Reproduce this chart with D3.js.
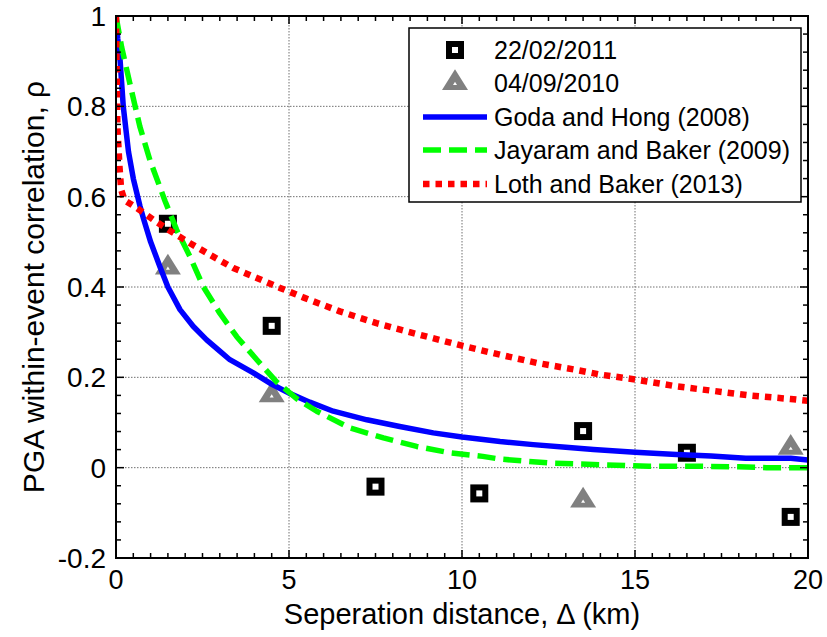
<!DOCTYPE html>
<html>
<head>
<meta charset="utf-8">
<script src="https://cdn.jsdelivr.net/npm/d3@7/dist/d3.min.js"></script>
<style>
html,body{margin:0;padding:0;background:#fff;}
svg{display:block;}
text{font-family:"Liberation Sans",Arial,Helvetica,sans-serif;fill:#000;}
</style>
</head>
<body>
<svg id="chart" width="827" height="637"></svg>
<script>
// ---------- data ----------
const xTicks = [0, 5, 10, 15, 20];
const yTicks = [-0.2, 0, 0.2, 0.4, 0.6, 0.8, 1];
const yTickLabels = ["-0.2", "0", "0.2", "0.4", "0.6", "0.8", "1"];

const eq2011X = [1.5, 4.5, 7.5, 10.5, 13.5, 16.5, 19.5];
const eq2011Y = [0.54, 0.314, -0.042, -0.057, 0.081, 0.033, -0.109];

const eq2010X = [1.5, 4.5, 13.5, 19.5];
const eq2010Y = [0.443, 0.16, -0.073, 0.044];

const godaX = [0, 0.05, 0.12, 0.21, 0.36, 0.5, 0.69, 0.8, 1.0, 1.27, 1.5, 1.85, 2.23, 2.62, 3.0, 3.29, 3.97, 4.45, 5.0, 5.6, 6.28, 7.25, 8.2, 9.17, 10.0, 11.1, 12.06, 13.0, 13.8, 15.0, 16.2, 17.2, 18.2, 19.5, 20];
const godaY = [1.0, 0.95, 0.90, 0.80, 0.70, 0.64, 0.58, 0.55, 0.50, 0.445, 0.40, 0.35, 0.313, 0.283, 0.258, 0.239, 0.21, 0.187, 0.165, 0.145, 0.125, 0.106, 0.091, 0.077, 0.068, 0.058, 0.051, 0.045, 0.040, 0.034, 0.029, 0.026, 0.021, 0.021, 0.017];

const jayX = [0, 0.16, 0.4, 0.69, 0.98, 1.42, 1.75, 2.14, 2.52, 3.0, 3.49, 4.07, 4.64, 5.22, 5.8, 6.76, 7.73, 8.69, 9.65, 10.6, 11.1, 12.5, 14.0, 15.4, 16.9, 18.0, 18.8, 20];
const jayY = [1.0, 0.932, 0.851, 0.755, 0.681, 0.59, 0.527, 0.467, 0.401, 0.342, 0.29, 0.239, 0.19, 0.153, 0.125, 0.088, 0.066, 0.047, 0.033, 0.025, 0.019, 0.0104, 0.0066, 0.003, 0.003, 0.002, 0.0, 0.0];

const lothX = [0, 0.01, 0.02, 0.04, 0.1, 0.15, 0.25, 0.6, 1.08, 1.51, 2.14, 2.72, 3.39, 4.07, 4.74, 5.41, 6.47, 7.53, 8.59, 10.0, 11.1, 12.16, 13.27, 14.0, 15.03, 16.2, 17.26, 18.3, 19.5, 20];
const lothY = [1.0, 0.93, 0.866, 0.755, 0.667, 0.615, 0.592, 0.575, 0.549, 0.527, 0.497, 0.471, 0.442, 0.42, 0.398, 0.377, 0.346, 0.32, 0.298, 0.27, 0.25, 0.232, 0.217, 0.206, 0.195, 0.18, 0.17, 0.16, 0.152, 0.148];

const legendLabels = ["22/02/2011", "04/09/2010", "Goda and Hong (2008)", "Jayaram and Baker (2009)", "Loth and Baker (2013)"];

// ---------- layout ----------
const L = 116, R = 808, T = 16, B = 558;
const svg = d3.select("#chart");
const x = d3.scaleLinear().domain([0, 20]).range([L, R]);
const y = d3.scaleLinear().domain([-0.2, 1]).range([B, T]);

// grid
const grid = svg.append("g").attr("stroke", "#707070").attr("stroke-width", 1).attr("stroke-dasharray", "1.5,1.5");
xTicks.slice(1, -1).forEach(v => grid.append("line").attr("x1", x(v)).attr("x2", x(v)).attr("y1", T).attr("y2", B));
yTicks.slice(1, -1).forEach(v => grid.append("line").attr("y1", y(v)).attr("y2", y(v)).attr("x1", L).attr("x2", R));

// markers
const sqSize = 12;
const marks = svg.append("g");
eq2011X.forEach((v, i) => {
  marks.append("rect").attr("x", x(v) - sqSize / 2).attr("y", y(eq2011Y[i]) - sqSize / 2)
    .attr("width", sqSize).attr("height", sqSize).attr("fill", "#fff").attr("stroke", "#000").attr("stroke-width", 6);
});
function triPath(cx, cy, s) {
  const h = s * 1.6;
  return `M${cx - s},${cy + h / 3}L${cx + s},${cy + h / 3}L${cx},${cy - 2 * h / 3}Z`;
}
function drawTri(g, cx, cy) {
  g.append("path").attr("d", triPath(cx, cy, 13)).attr("fill", "#808080");
  g.append("path").attr("d", triPath(cx, cy + 1, 2)).attr("fill", "#fff");
}
eq2010X.forEach((v, i) => drawTri(marks, x(v), y(eq2010Y[i])));

// clip + curves
svg.append("clipPath").attr("id", "clip").append("rect").attr("x", L).attr("y", T).attr("width", R - L).attr("height", B - T);
const plot = svg.append("g").attr("clip-path", "url(#clip)");
const line = d3.line().x(d => x(d[0])).y(d => y(d[1]));
const curves = [
  {xs: godaX, ys: godaY, color: "#0000ff", dash: null, w: 5.5},
  {xs: jayX, ys: jayY, color: "#00ff00", dash: "18,8", w: 5.5},
  {xs: lothX, ys: lothY, color: "#ff0000", dash: "6.5,6", w: 6.5}
];
curves.forEach(c => {
  const p = plot.append("path").datum(c.xs.map((v, i) => [v, c.ys[i]]))
    .attr("d", line).attr("fill", "none").attr("stroke", c.color).attr("stroke-width", c.w)
    .attr("stroke-linejoin", "round");
  if (c.dash) p.attr("stroke-dasharray", c.dash);
});

// frame
svg.append("rect").attr("x", L).attr("y", T).attr("width", R - L).attr("height", B - T)
  .attr("fill", "none").attr("stroke", "#000").attr("stroke-width", 2);

// ticks
const tk = svg.append("g").attr("stroke", "#000").attr("stroke-width", 1.5);
d3.range(0, 20.001, 0.5).forEach(v => {
  const major = Math.abs(v % 5) < 1e-6;
  const len = major ? 8 : 5;
  tk.append("line").attr("x1", x(v)).attr("x2", x(v)).attr("y1", B).attr("y2", B - len);
  tk.append("line").attr("x1", x(v)).attr("x2", x(v)).attr("y1", T).attr("y2", T + len);
});
d3.range(-0.2, 1.0001, 0.04).forEach(v => {
  const major = Math.abs(Math.round(v / 0.2) * 0.2 - v) < 1e-6;
  const len = major ? 8 : 5;
  tk.append("line").attr("y1", y(v)).attr("y2", y(v)).attr("x1", L).attr("x2", L + len);
  tk.append("line").attr("y1", y(v)).attr("y2", y(v)).attr("x1", R).attr("x2", R - len);
});

// tick labels
const tickFont = 27;
xTicks.forEach(v => svg.append("text").attr("x", x(v)).attr("y", 589).attr("text-anchor", "middle")
  .attr("font-size", tickFont).text(String(v)));
yTicks.forEach((v, i) => svg.append("text").attr("x", 106).attr("y", y(v)).attr("dy", "0.36em")
  .attr("text-anchor", "end").attr("font-size", 28).text(yTickLabels[i]));

// axis labels
svg.append("text").attr("x", (L + R) / 2).attr("y", 624).attr("text-anchor", "middle")
  .attr("font-size", 29).text("Seperation distance, Δ (km)");
svg.append("text").attr("transform", `translate(44,${(T + B) / 2}) rotate(-90)`).attr("text-anchor", "middle")
  .attr("font-size", 30).text("PGA within-event correlation, ρ");

// legend
const lg = svg.append("g");
lg.append("rect").attr("x", 409).attr("y", 28).attr("width", 392).attr("height", 174)
  .attr("fill", "#fff").attr("stroke", "#000").attr("stroke-width", 1.5);
const rowY = [50, 83, 117, 150, 184];
const lx1 = 423, lx2 = 487, mx = 455, tx = 494;
lg.append("rect").attr("x", mx - sqSize / 2).attr("y", rowY[0] - sqSize / 2).attr("width", sqSize).attr("height", sqSize)
  .attr("fill", "#fff").attr("stroke", "#000").attr("stroke-width", 6);
drawTri(lg, mx, rowY[1]);
curves.forEach((c, i) => {
  const l = lg.append("line").attr("x1", lx1).attr("x2", lx2).attr("y1", rowY[i + 2]).attr("y2", rowY[i + 2])
    .attr("stroke", c.color).attr("stroke-width", c.w);
  if (c.dash) l.attr("stroke-dasharray", c.dash);
});
legendLabels.forEach((t, i) => lg.append("text").attr("x", tx).attr("y", rowY[i]).attr("dy", "0.36em")
  .attr("font-size", 25).text(t));
</script>
</body>
</html>
